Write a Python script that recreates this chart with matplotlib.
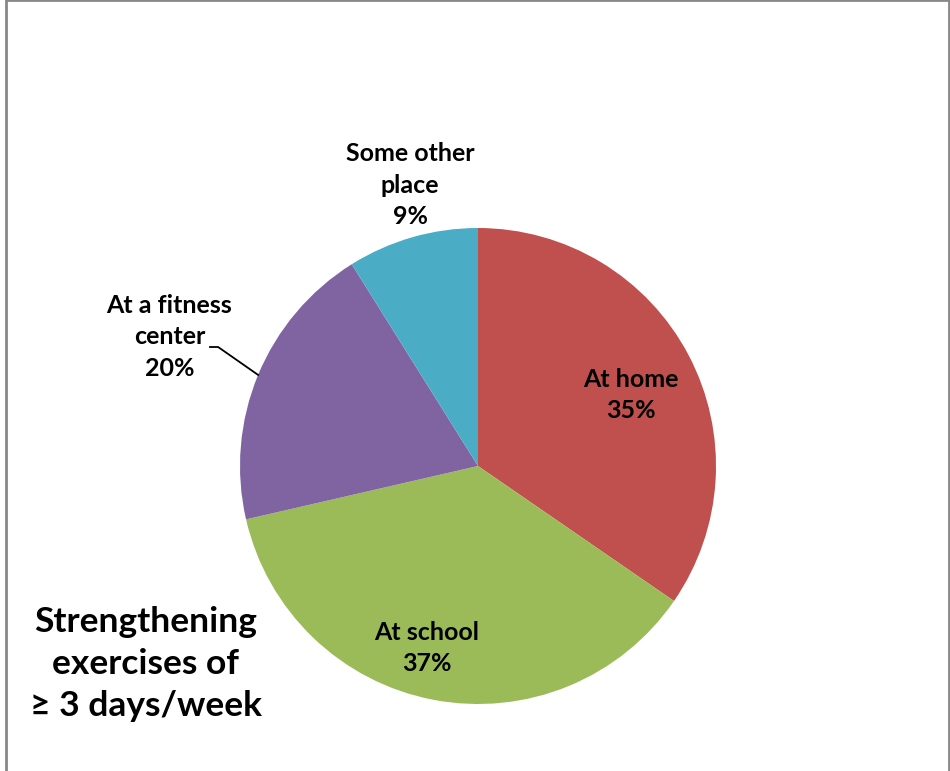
import numpy as np
import matplotlib
matplotlib.use("Agg")
import matplotlib.pyplot as plt
from matplotlib.patches import Rectangle

plt.rcParams['font.family'] = ['Lato', 'DejaVu Sans']

# data
places = ['At home', 'At school', 'At a fitness\ncenter', 'Some other\nplace']
shares = [34.6, 36.8, 19.7, 8.9]
colors = ['#C0504D', '#9BBB59', '#8064A2', '#4BACC6']
title_lines = 'Strengthening\nexercises of\n\u2265 3 days/week'

fig = plt.figure(figsize=(9.5, 7.71), dpi=100)
W, H = 950, 771
cx, cy, R = 478, 466, 238
ax = fig.add_axes([(cx - R) / W, (H - cy - R) / H, 2 * R / W, 2 * R / H])

wedges, _ = ax.pie(shares, colors=colors, startangle=90, counterclock=False,
                   radius=1.0, wedgeprops=dict(linewidth=0))
ax.set_xlim(-1, 1)
ax.set_ylim(-1, 1)
ax.set_aspect('equal')
ax.axis('off')

# label placement (radius factor, angle offset from wedge middle)
label_r = [0.709, 0.794, 1.405, 1.213]
label_da = [-2.8, -4.85, -0.2, -2.4]
total = sum(shares)
start = 90.0
for i, s in enumerate(shares):
    span = s / total * 360
    mid = start - span / 2
    start -= span
    a = np.deg2rad(mid + label_da[i])
    x, y = label_r[i] * np.cos(a), label_r[i] * np.sin(a)
    txt = '%s\n%d%%' % (places[i], round(s))
    ax.text(x, y, txt, ha='center', va='center', fontsize=18,
            fontweight='bold', linespacing=1.45, clip_on=False)

# leader line for the fitness center label
a = np.deg2rad(157.5)
ax.plot([-1.126, -1.092, np.cos(a)], [0.5, 0.5, np.sin(a)],
        color='black', lw=1.3, clip_on=False)

fig.text(146 / W, 1 - 664 / H, title_lines, ha='center', va='center',
         fontsize=25.5, fontweight='bold', linespacing=1.38)

# chart area border
fig.patches.append(Rectangle((6 / W, -0.05), 943 / W, 1.05 - 0.5 / H,
                             transform=fig.transFigure, fill=False,
                             edgecolor='#888888', lw=2))

fig.savefig('out.png', dpi=100)
